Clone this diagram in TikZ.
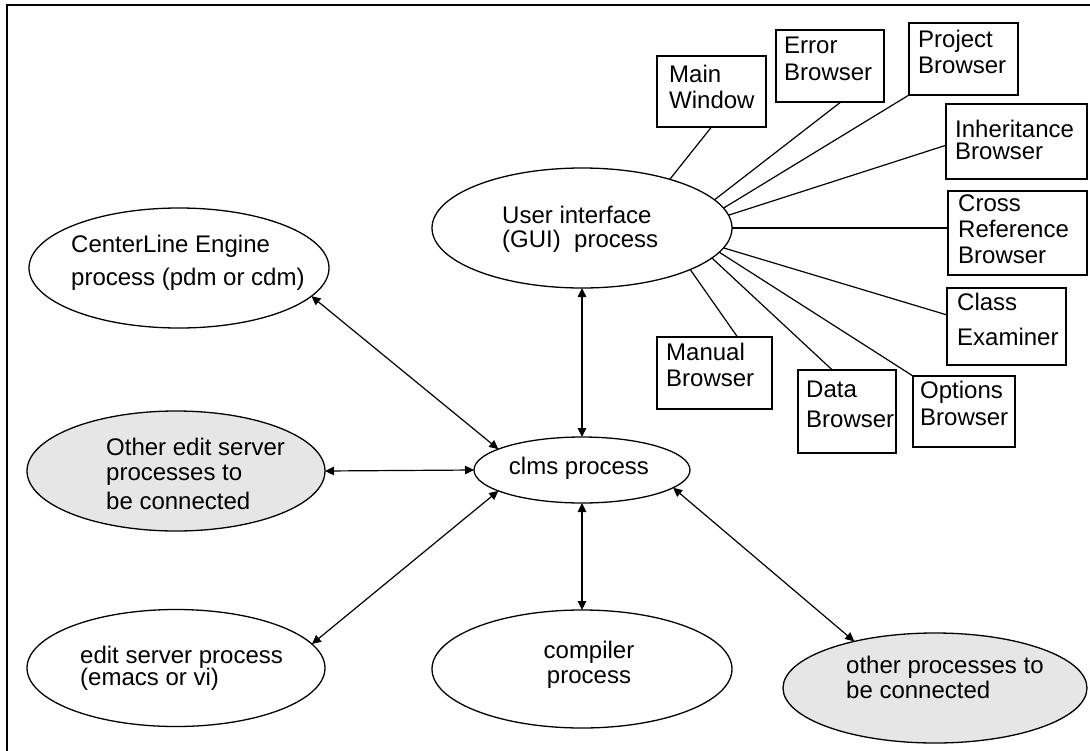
\documentclass[tikz,border=0pt]{standalone}
\usepackage{fontspec}
\setmainfont{Liberation Sans}
\usetikzlibrary{shapes.geometric,arrows.meta,calc}
\definecolor{shade}{RGB}{230,230,230}
\tikzset{
  txt/.style={inner sep=0pt, align=left, anchor=north west,
    font=\fontsize{24}{26}\selectfont},
  proc/.style={ellipse, draw, line width=1.3pt, inner sep=0pt, outer sep=0pt},
  pending/.style={proc, fill=shade},
  win/.style={draw, line width=1.6pt, inner sep=0pt, outer sep=0pt, anchor=north west},
  conn/.style={line width=1.2pt},
  link/.style={conn, {Triangle[length=9pt,width=8.5pt]}-{Triangle[length=9pt,width=8.5pt]}}
}
\begin{document}
\begin{tikzpicture}[x=1pt,y=-1pt]
\useasboundingbox (0,0) rectangle (1090,750);
% outer frame (top and left edges)
\coordinate (fbl) at (7,752);
\coordinate (ftl) at (7,5);
\coordinate (ftr) at (1092,5);
\draw[line width=1.5pt] (fbl) -- (ftl) -- (ftr);

% processes
\node[proc, minimum width=300pt, minimum height=120pt] (gui) at (582,228) {};
\node[proc, minimum width=300pt, minimum height=120pt] (cl) at (179,268) {};
\node[proc, minimum width=216pt, minimum height=66pt] (clms) at (582,470) {};
\node[pending, minimum width=298pt, minimum height=120pt] (oe) at (176,471) {};
\node[proc, minimum width=298pt, minimum height=117pt] (es) at (176,668) {};
\node[proc, minimum width=300pt, minimum height=118pt] (comp) at (582,669) {};
\node[pending, minimum width=304pt, minimum height=110pt] (op) at (935,688) {};

\node[txt] (guiT) at (502,205.5) {User interface\\[-2pt](GUI)\ \ process};
\node[txt] (clT) at (71,235) {CenterLine Engine\\[7pt]process (pdm or cdm)};
\node[txt, anchor=base] (clmsT) at (579,474) {clms process};
\node[txt] (oeT) at (106,438) {Other edit server\\[-1pt]processes to\\[3pt]be connected};
\node[txt] (esT) at (80,646) {edit server process\\[-4pt](emacs or vi)};
\node[txt, align=center, anchor=north] (compT) at (589,641) {compiler\\[-1pt]process};
\node[txt] (opT) at (846,656) {other processes to\\[-1pt]be connected};

% browser windows
\node[win, minimum width=109pt, minimum height=71pt] (mw) at (657,56) {};
\node[win, minimum width=108pt, minimum height=72pt] (eb) at (776,30) {};
\node[win, minimum width=109pt, minimum height=72pt] (pb) at (909,23) {};
\node[win, minimum width=141pt, minimum height=75pt] (ib) at (946,104) {};
\node[win, minimum width=139pt, minimum height=84pt] (cr) at (948,191) {};
\node[win, minimum width=119pt, minimum height=77pt] (ce) at (947,288) {};
\node[win, minimum width=115pt, minimum height=72pt] (mb) at (657,337) {};
\node[win, minimum width=98pt, minimum height=83pt] (db) at (798,370) {};
\node[win, minimum width=102pt, minimum height=71pt] (ob) at (913,376) {};

\node[txt] (mwT) at (669,64.5) {Main\\Window};
\node[txt] (ebT) at (784,36.5) {Error\\[1pt]Browser};
\node[txt] (pbT) at (918,30) {Project\\Browser};
\node[txt] (ibT) at (955,120) {Inheritance\\[-4.3pt]Browser};
\node[txt] (crT) at (958,195) {Cross\\Reference\\Browser};
\node[txt] (ceT) at (957,293) {Class\\[9pt]Examiner};
\node[txt] (mbT) at (666,343) {Manual\\Browser};
\node[txt] (dbT) at (806,381) {Data\\[4pt]Browser};
\node[txt] (obT) at (920,381) {Options\\[1pt]Browser};

% GUI to its windows
\draw[conn] (gui.29) -- (mw.south);
\draw[conn] (gui.12) -- ($(eb.south west)!0.6!(eb.south east)$);
\draw[conn] (gui.8) -- (pb.south west);
\draw[conn] (gui.5) -- ($(ib.north west)!0.55!(ib.south west)$);
\draw[conn] (gui.east) -- (gui.east -| cr.west);
\draw[conn] (gui.-8) -- ($(ce.north west)!0.35!(ce.south west)$);
\draw[conn] (gui.-10) -- (ob.north west);
\draw[conn] (gui.-13) -- ($(db.north west)!0.35!(db.north east)$);
\draw[conn] (gui.-21) -- ($(mb.north west)!0.7!(mb.north east)$);

% links to the clms process
\draw[link] (cl.-12) -- (clms.166);
\draw[link] (oe.east) -- (clms.west);
\draw[link] (es.10) -- (clms.194);
\draw[link] (gui.south) -- (clms.north);
\draw[link] (clms.south) -- (comp.north);
\draw[link] (clms.-11) -- (op.150);
\end{tikzpicture}
\end{document}
